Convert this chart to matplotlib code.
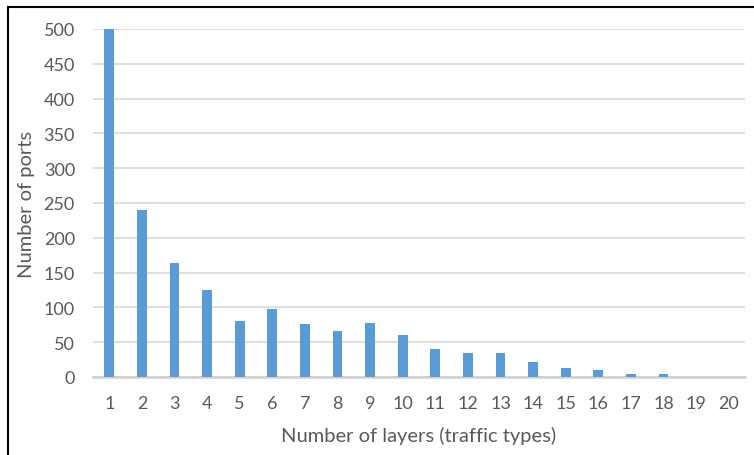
import matplotlib
matplotlib.use("Agg")
import matplotlib.pyplot as plt
from matplotlib.lines import Line2D

layers = [str(i) for i in range(1, 21)]
ports = [500, 240, 164, 125, 81, 97, 76, 66, 77, 60, 40, 35, 35, 22, 13, 10, 4, 4, 0, 0]
yticks = [0, 50, 100, 150, 200, 250, 300, 350, 400, 450, 500]

plt.rcParams['font.family'] = ['Lato', 'DejaVu Sans']

W, H = 754, 456
fig = plt.figure(figsize=(W / 100, H / 100), dpi=100)
ax = fig.add_axes([93 / W, 1 - 378 / H, (745 - 93) / W, (378 - 30) / H])

x = list(range(len(layers)))
ax.bar(x, ports, width=0.3, color='#5B9BD5', zorder=3)
ax.set_xlim(-0.5, len(layers) - 0.5)
ax.set_ylim(0, 500)
ax.set_yticks(yticks)
ax.set_xticks(x)
ax.set_xticklabels(layers)

ax.grid(axis='y', color='#d9d9d9', linewidth=1.2, zorder=0)
ax.set_axisbelow(True)
for s in ['top', 'right', 'left']:
    ax.spines[s].set_visible(False)
ax.spines['bottom'].set_color('#d0d0d0')
ax.spines['bottom'].set_linewidth(1.8)
ax.tick_params(axis='both', length=0, labelsize=13, colors='#595959')
ax.tick_params(axis='y', pad=13)
ax.tick_params(axis='x', pad=13)

ax.set_ylabel('Number of ports', fontsize=14.5, color='#595959', labelpad=6)
ax.set_xlabel('Number of layers (traffic types)', fontsize=14.5, color='#595959', labelpad=11)

fig.add_artist(Line2D([7.5 / W, 7.5 / W], [0, 1 - 8 / H], transform=fig.transFigure, color='black', linewidth=1.5))
fig.add_artist(Line2D([7.5 / W, 1], [1 - 8 / H, 1 - 8 / H], transform=fig.transFigure, color='black', linewidth=1.5))

fig.savefig('out.png', dpi=100)
